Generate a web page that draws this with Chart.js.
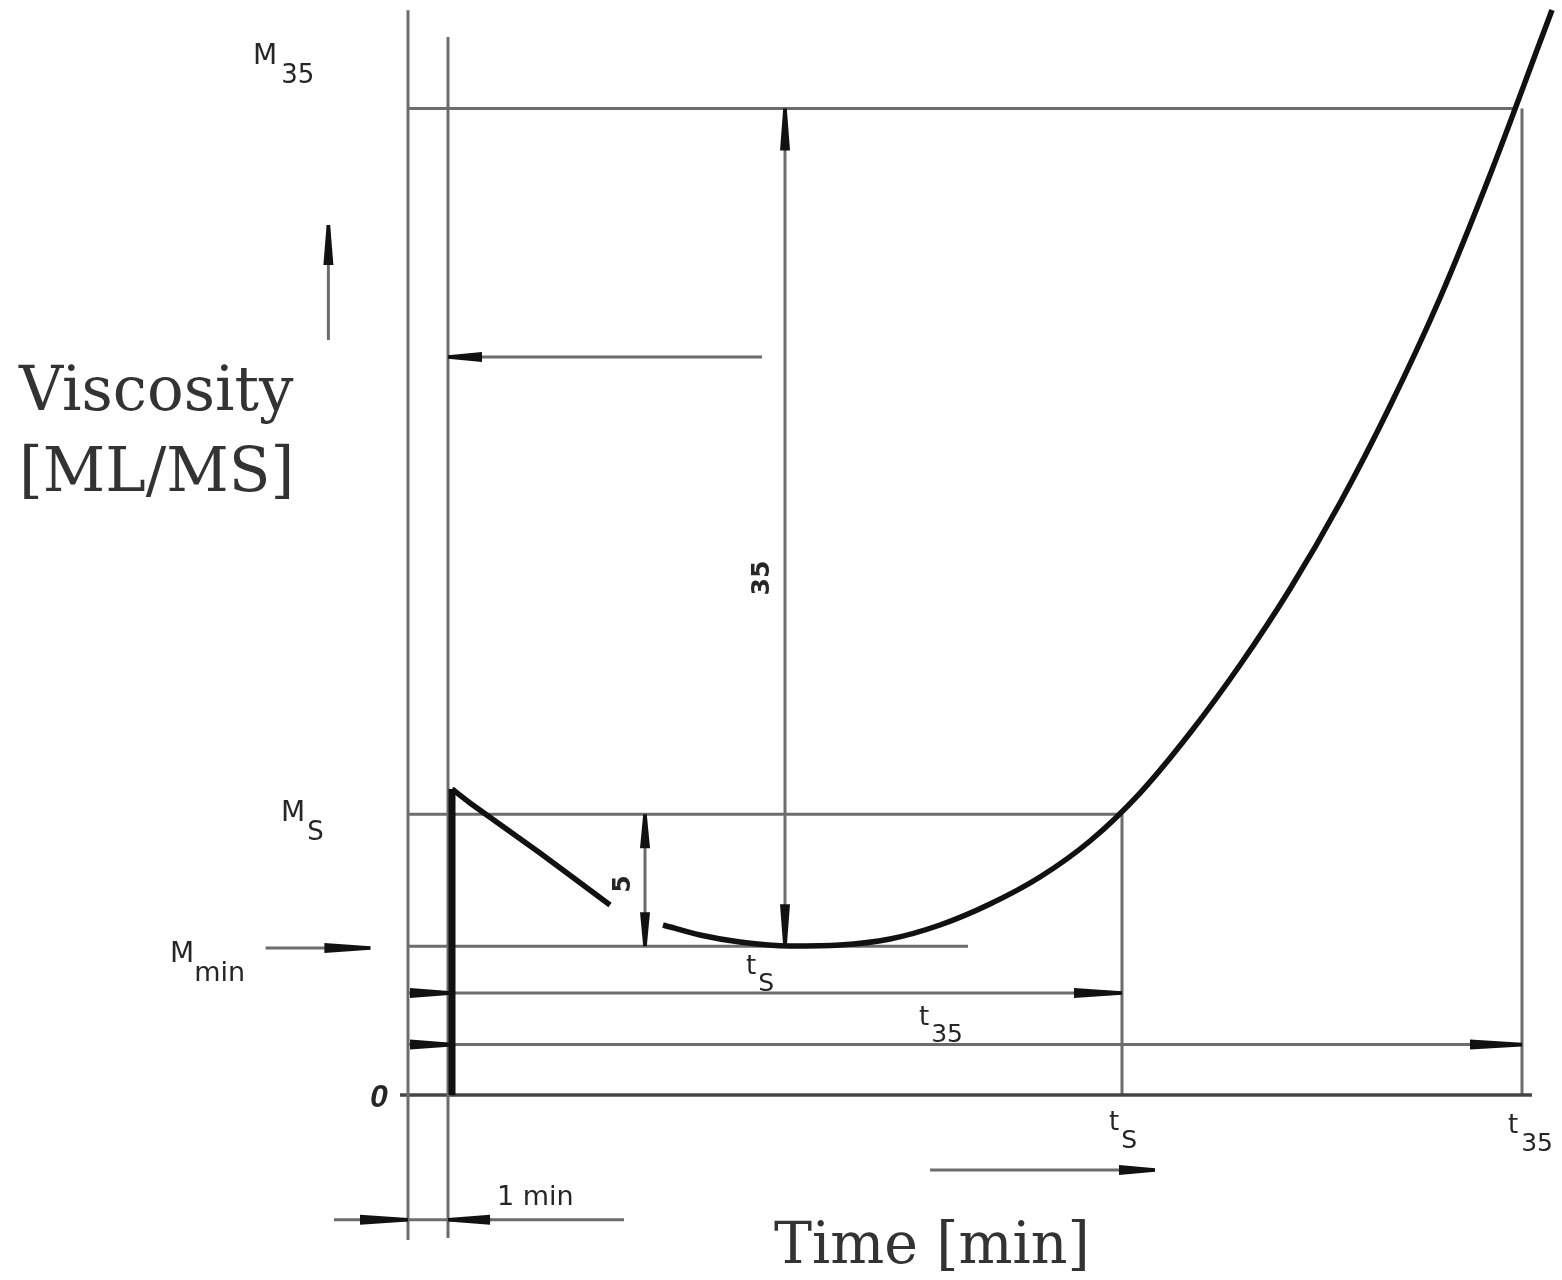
<!DOCTYPE html>
<html><head><meta charset="utf-8">
<script src="https://cdn.jsdelivr.net/npm/chart.js@4/dist/chart.umd.min.js"></script>
<style>html,body{margin:0;padding:0;background:#fff;}#wrap{width:1562px;height:1280px;position:relative;}</style>
</head><body><div id="wrap"><canvas id="c"></canvas></div>
<script>
// ---- Reference values (time in minutes, viscosity in Mooney units) ----
const T_PRE = -1;      // preheating starts 1 min before rotor start
const T0 = 0;          // rotor start
const T_S = 16.85;     // scorch time tS
const T_35 = 26.85;    // t35
const M_MIN = 6.2;     // minimum viscosity
const M_S = 11.7;      // Mmin + 5
const M_35 = 41.1;     // Mmin + 35

// ---- Viscosity curve (two pieces, as drawn) ----
const curveStartT = [0.1, 0.55, 2.3, 4.05];
const curveStartM = [12.75, 12.17, 10.08, 7.92];
const curveMainT = [5.375, 6.3, 7.3, 8.55, 9.8, 11.05, 12.3, 13.55, 14.8, 16.05, 17.3, 18.55, 19.8, 21.05, 22.3, 23.55, 24.8, 26.05, 27.3, 27.6];
const curveMainM = [7.083, 6.667, 6.375, 6.208, 6.25, 6.5, 7.083, 7.958, 9.083, 10.583, 12.583, 15.083, 17.917, 21.083, 24.667, 28.708, 33.208, 38.333, 43.875, 45.208];

// ---- Annotation levels ----
const outerLineM = [-6.04, 45.2];
const innerLineM = [-5.96, 44.08];
const baselineT = [-1.2, 27.1];
const m35LineEndT = 26.675;
const mMinLineEndT = 13.0;
const tsArrowM = 4.25;
const t35ArrowM = 2.1;
const stubEndT = 0.1;
const dim35T = 8.425;
const dim5T = 4.925;
const leftArrowM = 30.75;
const leftArrowT = [7.85, 0];
const viscArrowT = -2.99;
const viscArrowM = [31.46, 36.25];
const mMinArrowM = 6.125;
const mMinArrowT = [-4.56, -1.94];
const timeArrowM = -3.125;
const timeArrowT = [12.05, 17.675];
const oneMinM = -5.2;
const oneMinLineT = [-2.85, 4.4];
const oneMinLeftT = [-2.2, -1];
const oneMinRightT = [1.1, 0];

// ---- Axis ranges ----
const X_RANGE = [-11.2, 27.85];
const Y_RANGE = [-7.708, 45.625];

const pts = (xs, ys) => xs.map((x, i) => ({x: x, y: ys[i]}));
const hline = (y, xs) => pts(xs, [y, y]);
const vline = (x, ys) => pts([x, x], ys);

const GRAY = '#6c6c6c';
const g = (data, extra) => Object.assign({data: data, borderColor: GRAY, borderWidth: 3, order: 2}, extra || {});

const datasets = [
  {data: pts(curveMainT, curveMainM), borderColor: '#111', borderWidth: 5.5, cubicInterpolationMode: 'monotone', order: 0},
  {data: pts(curveStartT, curveStartM), borderColor: '#111', borderWidth: 5.5, tension: 0.3, order: 0},
  {data: vline(stubEndT, [0, curveStartM[0]]), borderColor: '#111', borderWidth: 7, order: 1},
  g(vline(T_PRE, outerLineM)),
  g(vline(T0, innerLineM)),
  g(hline(M_35, [T_PRE, m35LineEndT])),
  g(hline(M_S, [T_PRE, T_S])),
  g(hline(M_MIN, [T_PRE, mMinLineEndT])),
  g(hline(tsArrowM, [T_PRE, T_S]), {arrowEnd: true, arrowLen: 48}),
  g(hline(tsArrowM, [T_PRE, stubEndT]), {arrowEnd: true, arrowLen: 42}),
  g(hline(t35ArrowM, [T_PRE, T_35]), {arrowEnd: true, arrowLen: 52}),
  g(hline(t35ArrowM, [T_PRE, stubEndT]), {arrowEnd: true, arrowLen: 42}),
  g(hline(0, baselineT), {borderColor: '#444', borderWidth: 3.5}),
  g(vline(T_S, [0, M_S])),
  g(vline(T_35, [0, M_35])),
  g(vline(dim35T, [M_MIN, M_35]), {arrowStart: true, arrowEnd: true, arrowLen: 42}),
  g(vline(dim5T, [M_MIN, M_S]), {arrowStart: true, arrowEnd: true, arrowLen: 34}),
  g(hline(leftArrowM, leftArrowT), {arrowEnd: true, arrowLen: 34}),
  g(vline(viscArrowT, viscArrowM), {arrowEnd: true, arrowLen: 40}),
  g(hline(mMinArrowM, mMinArrowT), {arrowEnd: true, arrowLen: 46}),
  g(hline(timeArrowM, timeArrowT), {arrowEnd: true, arrowLen: 36}),
  g(hline(oneMinM, oneMinLineT)),
  g(hline(oneMinM, oneMinLeftT), {arrowEnd: true, arrowLen: 48}),
  g(hline(oneMinM, oneMinRightT), {arrowEnd: true, arrowLen: 42})
];

const arrowPlugin = {
  id: 'arrowHeads',
  afterDatasetsDraw(chart) {
    const ctx = chart.ctx;
    ctx.save();
    ctx.fillStyle = '#111';
    chart.data.datasets.forEach((ds, i) => {
      const p = chart.getDatasetMeta(i).data;
      if (!p || p.length < 2) return;
      const head = (tip, from, len) => {
        const dx = tip.x - from.x, dy = tip.y - from.y;
        const d = Math.hypot(dx, dy) || 1;
        const ux = dx / d, uy = dy / d;
        const L = len || 38, W = 5, w = 1.8;
        ctx.beginPath();
        ctx.moveTo(tip.x - uy * w, tip.y + ux * w);
        ctx.lineTo(tip.x + uy * w, tip.y - ux * w);
        ctx.lineTo(tip.x - ux * L + uy * W, tip.y - uy * L - ux * W);
        ctx.lineTo(tip.x - ux * L - uy * W, tip.y - uy * L + ux * W);
        ctx.closePath();
        ctx.fill();
      };
      if (ds.arrowEnd) head(p[p.length - 1], p[p.length - 2], ds.arrowLen);
      if (ds.arrowStart) head(p[0], p[1], ds.arrowLen);
    });
    ctx.restore();
  }
};

const labelPlugin = {
  id: 'labels',
  afterDraw(chart) {
    const ctx = chart.ctx;
    const xs = chart.scales.x, ys = chart.scales.y;
    const X = v => xs.getPixelForValue(v), Y = v => ys.getPixelForValue(v);
    const SANS = '"DejaVu Sans", sans-serif';
    const SERIF = '"DejaVu Serif", serif';
    ctx.save();
    ctx.fillStyle = '#262626';
    ctx.textBaseline = 'alphabetic';
    ctx.textAlign = 'left';
    const sub = (main, s, x, y, size, subSize, dx, dy) => {
      ctx.font = size + 'px ' + SANS;
      ctx.fillText(main, x, y);
      const w = ctx.measureText(main).width;
      ctx.font = subSize + 'px ' + SANS;
      ctx.fillText(s, x + w + dx, y + dy);
    };
    // y-side labels
    sub('M', '35', 253, Y(M_35) - 45, 28, 26, 4, 19);
    sub('M', 'S', 281, Y(M_S) + 7, 28, 26, 2, 19);
    sub('M', 'min', 170, Y(M_MIN) + 16, 28, 27, 0, 19);
    ctx.font = 'italic bold 32px "Liberation Sans", sans-serif';
    ctx.fillText('0', 370, Y(0) + 12);
    // x-side labels
    sub('t', 'S', X(T_S) - 13, Y(0) + 35, 26, 25, 2, 18);
    sub('t', '35', X(T_35) - 14, Y(0) + 38, 26, 25, 3, 18);
    sub('t', 'S', 746, Y(tsArrowM) - 19, 26, 25, 2, 17);
    sub('t', '35', 919, Y(t35ArrowM) - 20, 26, 25, 2, 17);
    // dimension numbers (rotated)
    ctx.font = 'bold 25px ' + SANS;
    ctx.textAlign = 'center'; ctx.textBaseline = 'middle';
    ctx.save(); ctx.translate(X(dim35T) - 23, 578); ctx.rotate(-Math.PI / 2); ctx.fillText('35', 0, 0); ctx.restore();
    ctx.save(); ctx.translate(X(dim5T) - 22, 884); ctx.rotate(-Math.PI / 2); ctx.fillText('5', 0, 0); ctx.restore();
    // 1 min
    ctx.textAlign = 'left'; ctx.textBaseline = 'alphabetic';
    ctx.font = '27px ' + SANS;
    ctx.fillText('1 min', 497, Y(oneMinM) - 15);
    // axis titles
    ctx.fillStyle = '#333';
    ctx.font = '61px ' + SERIF;
    ctx.fillText('Viscosity', 19, 410);
    ctx.fillText('[ML/MS]', 19, 491);
    ctx.font = '57px ' + SERIF;
    ctx.fillText('Time [min]', 774, 1263);
    ctx.restore();
  }
};

new Chart(document.getElementById('c'), {
  type: 'scatter',
  data: {datasets: datasets.map(d => Object.assign({showLine: true, pointRadius: 0, pointHoverRadius: 0, fill: false, clip: false}, d))},
  options: {
    responsive: true,
    maintainAspectRatio: false,
    animation: false,
    events: [],
    layout: {padding: 0},
    plugins: {legend: {display: false}, tooltip: {enabled: false}},
    scales: {
      x: {type: 'linear', min: X_RANGE[0], max: X_RANGE[1], display: false},
      y: {type: 'linear', min: Y_RANGE[0], max: Y_RANGE[1], display: false}
    }
  },
  plugins: [arrowPlugin, labelPlugin]
});
</script></body></html>
